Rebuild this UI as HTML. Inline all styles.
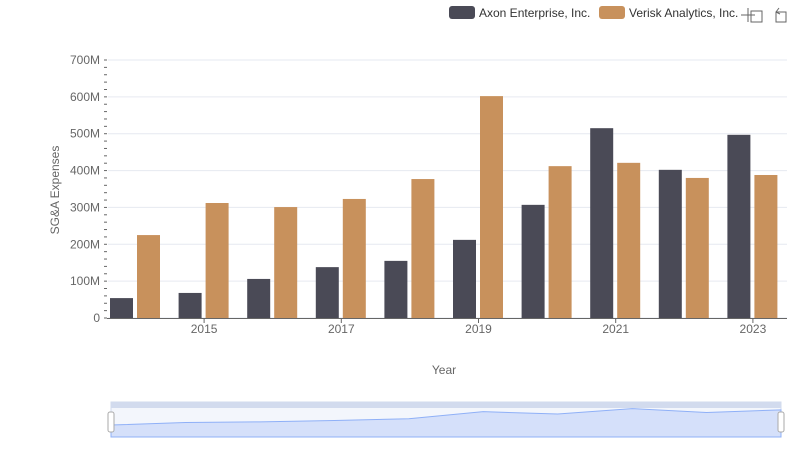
<!DOCTYPE html>
<html><head><meta charset="utf-8"><style>
body{margin:0;background:#fff;font-family:"Liberation Sans",sans-serif}
svg text{font-family:"Liberation Sans",sans-serif}
</style></head><body>
<svg width="800" height="461">
<g id="grid"></g><g id="bars"></g><g id="axes"></g>
<g>
<rect x="449" y="6" width="26" height="13" rx="3" fill="#4a4a56"/>
<text x="479" y="17" font-size="12" fill="#333">Axon Enterprise, Inc.</text>
<rect x="599" y="6" width="26" height="13" rx="3" fill="#c8915c"/>
<text x="629" y="17" font-size="12" fill="#333">Verisk Analytics, Inc.</text>
</g>
<g stroke="#666" fill="none">
<path d="M748 8v14M741 15h14M751 11h11v11h-11z"/>
<path d="M776 12h10v10h-10zM776 12l3-4M776 12l4 2"/>
</g>
<text x="59" y="190" font-size="12" fill="#666" text-anchor="middle" transform="rotate(-90 59 190)">SG&amp;A Expenses</text>
<text x="444" y="374" font-size="12" fill="#666" text-anchor="middle">Year</text>
<g>
<rect x="111" y="402" width="670" height="35" fill="#f3f6fc" stroke="#d2dbee"/>
<rect x="111" y="402" width="670" height="6" fill="#d2dbee"/>
<path id="zoomArea" fill="#d5e0fa" stroke="#8fb0f7"/>
<rect x="108" y="412" width="6" height="20" rx="2" fill="#fff" stroke="#aaa"/>
<rect x="778" y="412" width="6" height="20" rx="2" fill="#fff" stroke="#aaa"/>
</g>
</svg>
<script>
const years=[2014,2015,2016,2017,2018,2019,2020,2021,2022,2023];
const axon=[54,68,106,138,155,212,307,515,402,497];
const verisk=[225,312,301,323,377,602,412,421,380,388];
const yTicks=[0,100,200,300,400,500,600,700];
const xTickYears=[2015,2017,2019,2021,2023];
const NS='http://www.w3.org/2000/svg';
const y0=318,y1=60,x0=107,step=68.6;
const y=v=>y0-(v/700)*(y0-y1);
const xg=i=>x0+i*step;
function mk(t,a,p){const e=document.createElementNS(NS,t);for(const k in a)e.setAttribute(k,a[k]);p.appendChild(e);return e;}
const grid=document.getElementById('grid'),bars=document.getElementById('bars'),axes=document.getElementById('axes');
yTicks.forEach(v=>{
 const l=mk('line',{x1:108,x2:787,y1:y(v),y2:y(v),stroke:'#e6e9f0'},grid);
 
 
 const t=mk('text',{x:100,y:y(v)+4,'font-size':12,fill:'#666','text-anchor':'end'},axes);
 t.textContent=v===0?'0':v+'M';
 
 
 if(v<700)for(let k=1;k<5;k++){const m=mk('line',{x1:104,x2:107,y1:y(v+k*20),y2:y(v+k*20),stroke:'#666'},axes);
 
 }
 const mj=mk('line',{x1:104,x2:107,y1:y(v),y2:y(v),stroke:'#666'},axes);
 
 
});
years.forEach((yr,i)=>{
 const a=mk('rect',{x:xg(i)+3,y:y(axon[i]),width:23,height:y0-y(axon[i]),fill:'#4a4a56'},bars);
 
 
 const b=mk('rect',{x:xg(i)+30,y:y(verisk[i]),width:23,height:y0-y(verisk[i]),fill:'#c8915c'},bars);
 
 
});
const ax=mk('line',{x1:107,x2:787,y1:318.5,y2:318.5,stroke:'#666'},axes);


xTickYears.forEach(yr=>{
 const i=years.indexOf(yr);const xx=xg(i)+28.5;
 const tk=mk('line',{x1:xx,x2:xx,y1:318,y2:323,stroke:'#666'},axes);
 
 
 const t=mk('text',{x:xx,y:333,'font-size':12,fill:'#666','text-anchor':'middle'},axes);
 t.textContent=yr;
 
 
});
// slider preview: totals
let d='M111 437';
const tot=years.map((_,i)=>axon[i]+verisk[i]);
years.forEach((_,i)=>{const xx=111+i*670/9;const yy=432-tot[i]/1000*25;d+=' L'+xx+' '+yy;});
d+=' L781 437 Z';
document.getElementById('zoomArea').setAttribute('d',d);
</script>
</body></html>
